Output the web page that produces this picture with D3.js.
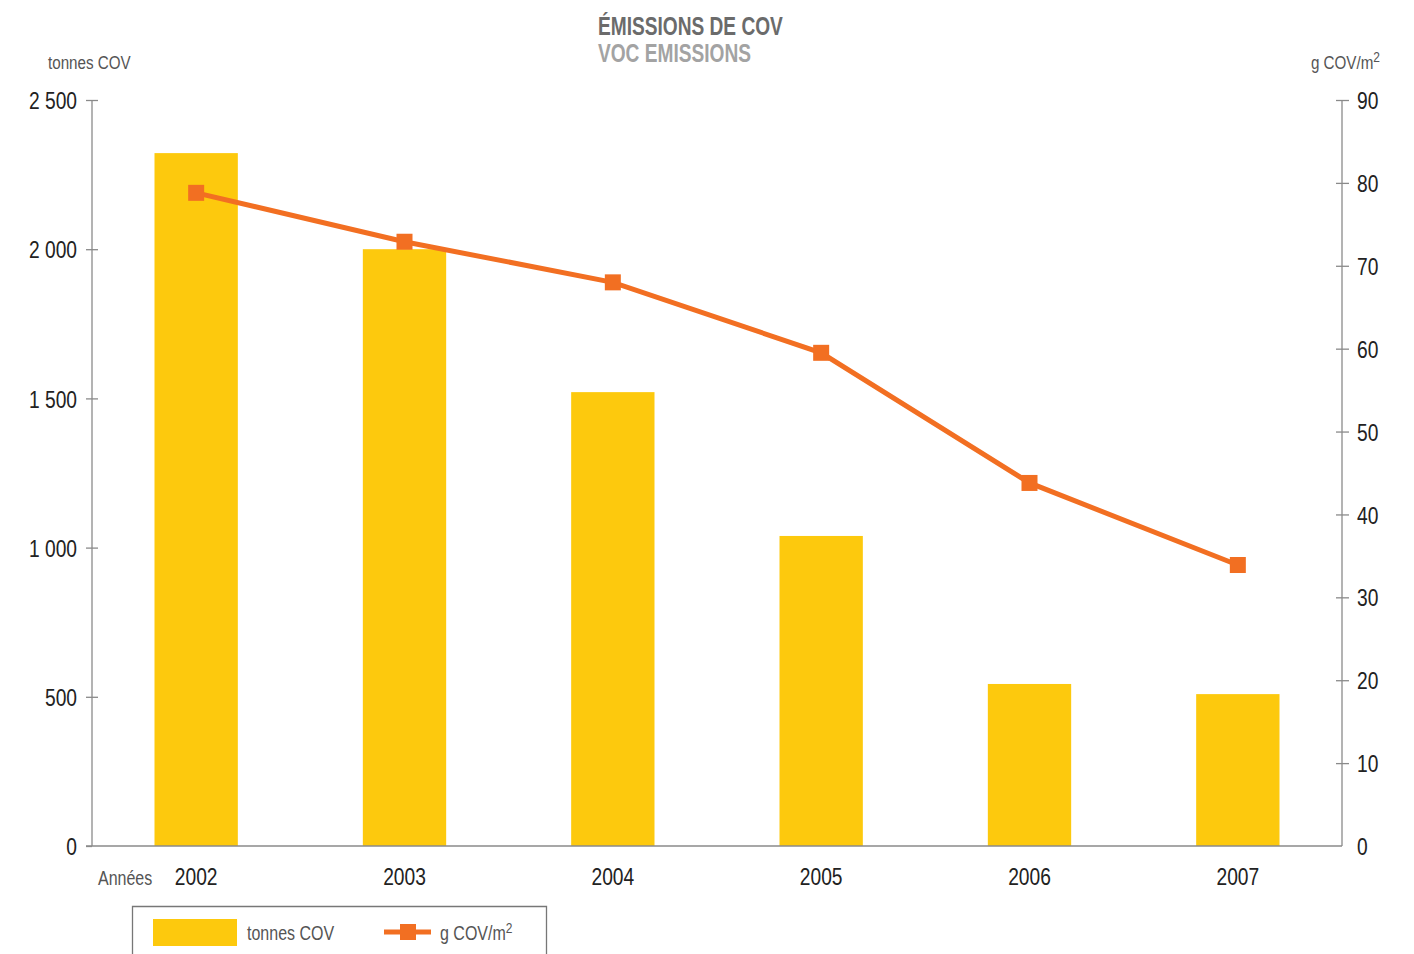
<!DOCTYPE html>
<html>
<head>
<meta charset="utf-8">
<script src="https://cdn.jsdelivr.net/npm/d3@7/dist/d3.min.js"></script>
<style>
  html, body { margin: 0; padding: 0; background: #fff; }
  svg text { font-family: "Liberation Sans", Arial, sans-serif; }
</style>
</head>
<body>
<svg id="chart" width="1414" height="954"></svg>
<script>
// Annual VOC emissions: tonnes (bars, left axis) and g COV/m2 (line, right axis)
const years = ["2002", "2003", "2004", "2005", "2006", "2007"];
const tonnes = [2322, 2000, 1521, 1039, 543, 509];
const gramsPerM2 = [78.8, 72.9, 68.0, 59.5, 43.8, 33.9];
const leftTicks = [0, 500, 1000, 1500, 2000, 2500];
const rightTicks = [0, 10, 20, 30, 40, 50, 60, 70, 80, 90];

const BAR = "#FDC90D";
const LINE = "#F26F22";
const AXIS = "#8a8a8a";

const svg = d3.select("#chart");
const m = { left: 92, right: 1342, top: 100, bottom: 846 };

const x = d3.scaleBand().domain(years).range([m.left, m.right]).paddingInner(0.6).paddingOuter(0.3);
const yL = d3.scaleLinear().domain([0, 2500]).range([m.bottom, m.top]);
const yR = d3.scaleLinear().domain([0, 90]).range([m.bottom, m.top]);
const fmt = v => d3.format(",")(v).replace(/,/g, "\u00a0");

// Condensed look: narrow the glyphs horizontally while keeping the anchor point
function squeeze(sel, k) {
  sel.each(function () {
    const t = d3.select(this);
    const x0 = +(t.attr("x") || 0);
    t.attr("x", x0 / k).attr("transform", `scale(${k},1)`);
  });
  return sel;
}

// Title
squeeze(svg.append("text").attr("x", 598).attr("y", 35).attr("font-size", 25).attr("font-weight", "bold")
  .attr("fill", "#6b6b6b").text("ÉMISSIONS DE COV"), 0.765);
squeeze(svg.append("text").attr("x", 598).attr("y", 62).attr("font-size", 25).attr("font-weight", "bold")
  .attr("fill", "#a3a3a3").text("VOC EMISSIONS"), 0.765);

// Axis unit labels
squeeze(svg.append("text").attr("x", 48).attr("y", 69).attr("font-size", 19).attr("fill", "#555").text("tonnes COV"), 0.8);
const ru = svg.append("text").attr("x", 1380).attr("y", 69).attr("font-size", 19).attr("fill", "#555")
  .attr("text-anchor", "end");
ru.append("tspan").text("g COV/m");
ru.append("tspan").attr("font-size", 15).attr("dy", -7).text("2");
squeeze(ru, 0.8);

// Bars
svg.append("g").selectAll("rect").data(years).join("rect")
  .attr("x", d => x(d)).attr("width", x.bandwidth())
  .attr("y", (d, i) => yL(tonnes[i])).attr("height", (d, i) => yL(0) - yL(tonnes[i]))
  .attr("fill", BAR);

// Left axis
const gl = svg.append("g").attr("transform", `translate(${m.left},0)`)
  .call(d3.axisLeft(yL).tickValues(leftTicks).tickFormat(fmt).tickSize(6).tickPadding(9));
gl.select(".domain").remove();
gl.append("line").attr("x1", 0).attr("x2", 0).attr("y1", m.top).attr("y2", m.bottom).attr("stroke", AXIS).attr("stroke-width", 1.3);
gl.selectAll(".tick").filter(d => d !== 0).append("line").attr("x1", 0).attr("x2", 6).attr("stroke", AXIS).attr("stroke-width", 1.3);
gl.selectAll(".tick line").attr("stroke", AXIS).attr("stroke-width", 1.3);
gl.selectAll(".tick text").attr("font-size", 24).attr("fill", "#222").attr("dy", "0.36em").attr("x", -15);
squeeze(gl.selectAll(".tick text"), 0.8);

// Right axis
const gr = svg.append("g").attr("transform", `translate(${m.right},0)`)
  .call(d3.axisRight(yR).tickValues(rightTicks).tickSize(7).tickPadding(9));
gr.select(".domain").remove();
gr.append("line").attr("x1", 0).attr("x2", 0).attr("y1", m.top).attr("y2", m.bottom).attr("stroke", AXIS).attr("stroke-width", 1.3);
gr.selectAll(".tick").filter(d => d !== 0).append("line").attr("x1", -6).attr("x2", 0).attr("stroke", AXIS).attr("stroke-width", 1.3);
gr.selectAll(".tick").filter(d => d === 0).select("line").remove();
gr.selectAll(".tick line").attr("stroke", AXIS).attr("stroke-width", 1.3);
gr.selectAll(".tick text").attr("font-size", 24).attr("fill", "#222").attr("dy", "0.36em").attr("x", 15);
squeeze(gr.selectAll(".tick text"), 0.8);

// Baseline
svg.append("line").attr("x1", m.left - 6).attr("x2", m.right).attr("y1", m.bottom).attr("y2", m.bottom)
  .attr("stroke", AXIS).attr("stroke-width", 1.3);

// Year labels
const gx = svg.append("g").attr("transform", `translate(0,${m.bottom})`)
  .call(d3.axisBottom(x).tickSize(0).tickPadding(22));
gx.select(".domain").remove();
gx.selectAll(".tick text").attr("font-size", 24).attr("fill", "#222").attr("dy", "0.71em");
squeeze(gx.selectAll(".tick text"), 0.8);
squeeze(svg.append("text").attr("x", 98).attr("y", 885).attr("font-size", 20).attr("fill", "#555").text("Années"), 0.8);

// Line series
const cx = d => x(d) + x.bandwidth() / 2;
svg.append("path").datum(years)
  .attr("d", d3.line().x(d => cx(d)).y((d, i) => yR(gramsPerM2[i])))
  .attr("fill", "none").attr("stroke", LINE).attr("stroke-width", 5);
svg.append("g").selectAll("rect").data(years).join("rect")
  .attr("x", d => cx(d) - 8).attr("y", (d, i) => yR(gramsPerM2[i]) - 8)
  .attr("width", 16).attr("height", 16).attr("fill", LINE);

// Legend
const lg = svg.append("g");
lg.append("path").attr("d", "M132.5,954 V906.5 H546.5 V954").attr("fill", "none").attr("stroke", "#777").attr("stroke-width", 1.3);
lg.append("rect").attr("x", 153).attr("y", 919).attr("width", 84).attr("height", 27).attr("fill", BAR);
squeeze(lg.append("text").attr("x", 247).attr("y", 940).attr("font-size", 20).attr("fill", "#555").text("tonnes COV"), 0.8);
lg.append("line").attr("x1", 384).attr("x2", 431).attr("y1", 932).attr("y2", 932).attr("stroke", LINE).attr("stroke-width", 5);
lg.append("rect").attr("x", 400).attr("y", 924).attr("width", 16).attr("height", 16).attr("fill", LINE);
const lt = lg.append("text").attr("x", 440).attr("y", 940).attr("font-size", 20).attr("fill", "#555");
lt.append("tspan").text("g COV/m");
lt.append("tspan").attr("font-size", 15).attr("dy", -7).text("2");
squeeze(lt, 0.8);
</script>
</body>
</html>
